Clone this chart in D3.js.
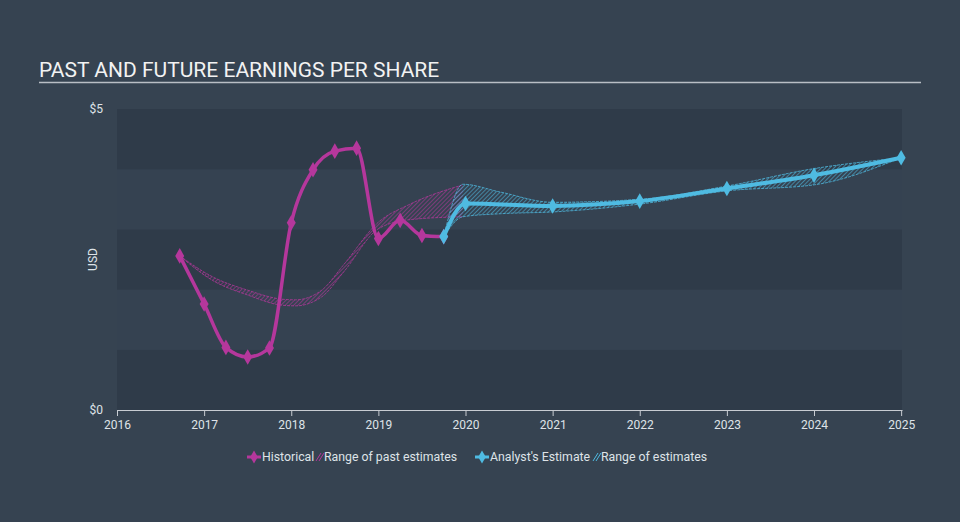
<!DOCTYPE html>
<html>
<head>
<meta charset="utf-8">
<script src="https://cdn.jsdelivr.net/npm/d3@7"></script>
<style>
  html, body { margin: 0; padding: 0; background: #364351; }
  svg { display: block; font-family: Roboto, "Open Sans", sans-serif; }
</style>
</head>
<body>
<div id="main"></div>
<script>
// chart data (decimal years, USD per share)
const historicalDates = [2016.72, 2017.0, 2017.25, 2017.5, 2017.75, 2018.0, 2018.25, 2018.5, 2018.75, 2019.0, 2019.25, 2019.5, 2019.75];
const historicalValues = [2.56, 1.76, 1.04, 0.88, 1.03, 3.11, 3.99, 4.30, 4.35, 2.85, 3.15, 2.90, 2.88];

const forecastDates = [2019.75, 2020.0, 2021.0, 2022.0, 2023.0, 2024.0, 2025.0];
const forecastValues = [2.88, 3.43, 3.39, 3.47, 3.68, 3.90, 4.19];

const pastRangeDates = [2016.72, 2017.1, 2017.5, 2017.9, 2018.05, 2018.35, 2018.6, 2019.0, 2019.35, 2019.97];
const pastRangeLow = [2.56, 2.15, 1.91, 1.74, 1.73, 1.88, 2.29, 3.01, 3.16, 3.21];
const pastRangeHigh = [2.56, 2.21, 1.99, 1.84, 1.83, 1.99, 2.41, 3.12, 3.41, 3.74];

const rangeDates = [2019.75, 2019.97, 2020.4, 2021.0, 2022.0, 2023.0, 2024.0, 2025.0];
const rangeLow = [2.88, 3.21, 3.26, 3.29, 3.42, 3.64, 3.74, 4.19];
const rangeHigh = [2.88, 3.75, 3.62, 3.45, 3.50, 3.72, 4.01, 4.19];

const xTicks = [2016, 2017, 2018, 2019, 2020, 2021, 2022, 2023, 2024, 2025];
const yTicks = [0, 5];
const bandEdges = [0, 1, 2, 3, 4, 5];

const W = 960, H = 522;
const PLOT = { left: 117, right: 902, top: 109, bottom: 410 };
const MAGENTA = '#b5379c';
const BLUE = '#4fbbe2';
const TEXT = '#dfe3e8';

const svg = d3.select('#main').append('svg')
  .attr('width', W)
  .attr('height', H);

svg.append('rect').attr('width', W).attr('height', H).attr('fill', '#364351');

// hatch patterns
const defs = svg.append('defs');
const addHatch = (id, color) => {
  const p = defs.append('pattern')
    .attr('id', id)
    .attr('patternUnits', 'userSpaceOnUse')
    .attr('width', 3)
    .attr('height', 3)
    .attr('patternTransform', 'rotate(45)');
  p.append('line')
    .attr('x1', 0).attr('y1', 0).attr('x2', 0).attr('y2', 3)
    .attr('stroke', color)
    .attr('stroke-width', 1.3)
    .attr('stroke-opacity', 0.85);
};
addHatch('hatch-past', MAGENTA);
addHatch('hatch-future', BLUE);

// scales
const xScale = d3.scaleLinear().domain([2016, 2025.01]).range([PLOT.left, PLOT.right]);
const yScale = d3.scaleLinear().domain([0, 5]).range([PLOT.bottom, PLOT.top]);

// title
svg.append('text')
  .attr('x', 39)
  .attr('y', 77)
  .attr('fill', '#f2f2f2')
  .attr('font-size', 21)
  .text('PAST AND FUTURE EARNINGS PER SHARE');

svg.append('line')
  .attr('x1', 39).attr('x2', 921)
  .attr('y1', 82.5).attr('y2', 82.5)
  .attr('stroke', '#b9bec5')
  .attr('stroke-width', 1.5);

// alternating background bands
svg.append('g')
  .selectAll('rect')
  .data(bandEdges.slice(0, -1))
  .enter()
  .append('rect')
  .attr('x', PLOT.left)
  .attr('width', PLOT.right - PLOT.left)
  .attr('y', (d) => yScale(d + 1))
  .attr('height', (d) => yScale(d) - yScale(d + 1))
  .attr('fill', (d) => (d % 2 === 0 ? '#2f3b49' : '#354251'));

// y labels
svg.append('g')
  .selectAll('text')
  .data(yTicks)
  .enter()
  .append('text')
  .attr('x', 103)
  .attr('y', (d) => yScale(d) + 4)
  .attr('text-anchor', 'end')
  .attr('fill', TEXT)
  .attr('font-size', 12)
  .text((d) => '$' + d);

svg.append('text')
  .attr('transform', `translate(97,${yScale(2.5)}) rotate(-90)`)
  .attr('text-anchor', 'middle')
  .attr('fill', TEXT)
  .attr('font-size', 12)
  .text('USD');

// x axis
const xAxis = svg.append('g')
  .attr('transform', `translate(0,${PLOT.bottom})`)
  .call(d3.axisBottom(xScale).tickValues(xTicks).tickFormat(d3.format('d')).tickSize(6).tickSizeOuter(0));
xAxis.select('.domain').attr('stroke', '#c8ccd2');
xAxis.selectAll('.tick line').attr('stroke', '#c8ccd2');
xAxis.selectAll('.tick text')
  .attr('fill', TEXT)
  .attr('font-size', 12)
  .attr('font-family', 'Roboto, sans-serif')
  .attr('dy', '0.85em');

// ranges
const zip = (dates, lo, hi) => dates.map((d, i) => ({ x: d, lo: lo[i], hi: hi[i] }));
const area = d3.area()
  .x((d) => xScale(d.x))
  .y0((d) => yScale(d.lo))
  .y1((d) => yScale(d.hi))
  .curve(d3.curveMonotoneX);
const edge = (key) => d3.line()
  .x((d) => xScale(d.x))
  .y((d) => yScale(d[key]))
  .curve(d3.curveMonotoneX);

const drawRange = (rows, fillId, color) => {
  svg.append('path').datum(rows).attr('d', area).attr('fill', `url(#${fillId})`);
  ['lo', 'hi'].forEach((k) => {
    svg.append('path').datum(rows)
      .attr('d', edge(k))
      .attr('fill', 'none')
      .attr('stroke', color)
      .attr('stroke-width', 1)
      .attr('stroke-opacity', 0.75)
      .attr('stroke-dasharray', '3,1');
  });
};
drawRange(zip(pastRangeDates, pastRangeLow, pastRangeHigh), 'hatch-past', MAGENTA);
drawRange(zip(rangeDates, rangeLow, rangeHigh), 'hatch-future', BLUE);

// series lines
const line = d3.line()
  .x((d) => xScale(d.x))
  .y((d) => yScale(d.y))
  .curve(d3.curveMonotoneX);
const diamond = d3.symbol().type(d3.symbolDiamond).size(70);

const drawSeries = (dates, values, color, width) => {
  const rows = dates.map((d, i) => ({ x: d, y: values[i] }));
  svg.append('path').datum(rows)
    .attr('d', line)
    .attr('fill', 'none')
    .attr('stroke', color)
    .attr('stroke-width', width)
    .attr('stroke-linejoin', 'round');
  svg.append('g')
    .selectAll('path')
    .data(rows)
    .enter()
    .append('path')
    .attr('d', diamond)
    .attr('transform', (d) => `translate(${xScale(d.x)},${yScale(d.y)})`)
    .attr('fill', color);
};
drawSeries(historicalDates, historicalValues, MAGENTA, 3.5);
drawSeries(forecastDates, forecastValues, BLUE, 4);

// legend
const legend = svg.append('g').attr('transform', 'translate(0,457)');
const legendItems = [
  { type: 'mark', color: MAGENTA, x: 254, label: 'Historical' },
  { type: 'hatch', color: MAGENTA, x: 320, label: 'Range of past estimates' },
  { type: 'mark', color: BLUE, x: 482, label: "Analyst's Estimate" },
  { type: 'hatch', color: BLUE, x: 597, label: 'Range of estimates' }
];
legendItems.forEach((it) => {
  if (it.type === 'mark') {
    legend.append('line')
      .attr('x1', it.x - 7).attr('x2', it.x + 7)
      .attr('stroke', it.color).attr('stroke-width', 3);
    legend.append('path')
      .attr('d', d3.symbol().type(d3.symbolDiamond).size(50))
      .attr('transform', `translate(${it.x},0)`)
      .attr('fill', it.color);
  } else {
    [-1.5, 1.5].forEach((o) => {
      legend.append('line')
        .attr('x1', it.x + o - 2.5).attr('y1', 4)
        .attr('x2', it.x + o + 2.5).attr('y2', -4)
        .attr('stroke', it.color).attr('stroke-width', 1);
    });
  }
  legend.append('text')
    .attr('x', it.x + (it.type === 'mark' ? 8 : 4))
    .attr('y', 4)
    .attr('fill', TEXT)
    .attr('font-size', 12.3)
    .text(it.label);
});
</script>
</body>
</html>
